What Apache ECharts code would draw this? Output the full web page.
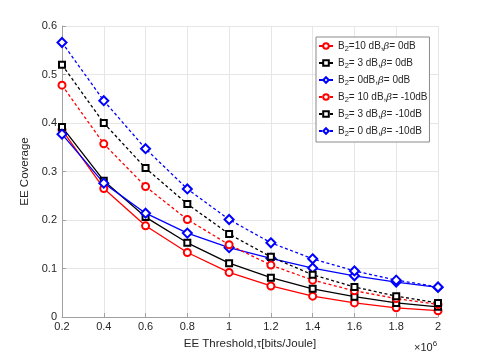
<!DOCTYPE html>
<html>
<head>
<meta charset="utf-8">
<script src="https://cdn.jsdelivr.net/npm/echarts@6/dist/echarts.min.js"></script>
<style>
  html, body { margin: 0; padding: 0; background: #fff; }
  #eeCoverage { width: 485px; height: 357px; }
</style>
</head>
<body>
<div id="eeCoverage"></div>
<script>
// x 轴: EE 门限 (单位 1e6 bits/Joule)
var thresholds = [0.2, 0.4, 0.6, 0.8, 1.0, 1.2, 1.4, 1.6, 1.8, 2.0];

// beta = 0dB
var b10_beta0 = [0.386, 0.265, 0.188, 0.133, 0.092, 0.064, 0.043, 0.029, 0.019, 0.013];
var b3_beta0 = [0.392, 0.281, 0.206, 0.153, 0.111, 0.081, 0.058, 0.042, 0.029, 0.021];
var b0_beta0 = [0.377, 0.276, 0.214, 0.173, 0.143, 0.121, 0.101, 0.085, 0.072, 0.061];
// beta = -10dB
var b10_betaM10 = [0.478, 0.357, 0.269, 0.201, 0.149, 0.107, 0.076, 0.054, 0.038, 0.026];
var b3_betaM10 = [0.520, 0.400, 0.307, 0.233, 0.171, 0.124, 0.087, 0.062, 0.043, 0.029];
var b0_betaM10 = [0.566, 0.446, 0.347, 0.264, 0.201, 0.153, 0.120, 0.095, 0.076, 0.062];

var seriesNames = [
  'B2=10 dB,β= 0dB',
  'B2= 3 dB,β= 0dB',
  'B2= 0dB,β= 0dB',
  'B2= 10 dB,β= -10dB',
  'B2= 3 dB,β= -10dB',
  'B2= 0 dB,β= -10dB'
];

function pairs (ys) {
  return thresholds.map(function (x, i) { return [x, ys[i]]; });
}

// 图例文字: B 下标 2, β 斜体
function legendLabel (name) {
  var m = name.match(/^B2(.*?),β(.*)$/);
  return '{t|B}{s|2}{t|' + m[1] + ',}{g|β}{t|' + m[2] + '}';
}

function makeSeries (name, data, color, symbol, size, dashed) {
  return {
    name: name,
    type: 'line',
    data: pairs(data),
    symbol: symbol,
    symbolSize: size,
    showSymbol: true,
    lineStyle: { color: color, width: 1.3, type: dashed ? [3, 2.5] : 'solid' },
    itemStyle: { color: color, borderColor: color, borderWidth: 1.3 },
    emphasis: { disabled: true },
    animation: false
  };
}

var myChart = echarts.init(document.getElementById('eeCoverage'));
var textColor = '#262626';
var option = {
  backgroundColor: '#fff',
  grid: {
    left: 62,
    top: 26,
    right: 47,
    bottom: 40
  },
  legend: {
    orient: 'vertical',
    left: 316,
    top: 37,
    padding: [4, 2, 4, 2],
    itemGap: 5,
    itemWidth: 14,
    itemHeight: 7,
    backgroundColor: '#fff',
    borderColor: '#8a8a8a',
    borderWidth: 1,
    data: seriesNames,
    formatter: legendLabel,
    textStyle: {
      color: textColor,
      fontFamily: 'Liberation Sans',
      fontSize: 10,
      rich: {
        t: { fontSize: 10, fontFamily: 'Liberation Sans', color: textColor, height: 13 },
        s: { fontSize: 7.5, fontFamily: 'Liberation Sans', color: textColor, padding: [6, 0, 0, 0], height: 13 },
        g: { fontSize: 10, fontFamily: 'DejaVu Serif', fontStyle: 'italic', color: textColor, height: 13 }
      }
    }
  },
  xAxis: {
    type: 'value',
    min: 0.2,
    max: 2,
    interval: 0.2,
    name: 'EE Threshold,τ[bits/Joule]',
    nameLocation: 'middle',
    nameGap: 21,
    nameTextStyle: { color: textColor, fontFamily: 'Liberation Sans', fontSize: 11.5 },
    axisLine: { show: true, lineStyle: { color: '#a0a0a0', width: 1 } },
    axisTick: { show: true, inside: true, length: 4, lineStyle: { color: '#a0a0a0' } },
    axisLabel: {
      color: textColor,
      fontFamily: 'Liberation Sans',
      fontSize: 11,
      margin: 4,
      formatter: function (v) { return String(Math.round(v * 10) / 10); }
    },
    splitLine: { show: true, lineStyle: { color: '#e6e6e6', width: 1 } }
  },
  yAxis: {
    type: 'value',
    min: 0,
    max: 0.6,
    interval: 0.1,
    name: 'EE Coverage',
    nameLocation: 'middle',
    nameGap: 19,
    nameTextStyle: { color: textColor, fontFamily: 'Liberation Sans', fontSize: 11.5 },
    axisLine: { show: true, lineStyle: { color: '#a0a0a0', width: 1 } },
    axisTick: { show: true, inside: true, length: 4, lineStyle: { color: '#a0a0a0' } },
    axisLabel: {
      color: textColor,
      fontFamily: 'Liberation Sans',
      fontSize: 11,
      margin: 5,
      formatter: function (v) { return String(Math.round(v * 10) / 10); }
    },
    splitLine: { show: true, lineStyle: { color: '#e6e6e6', width: 1 } }
  },
  graphic: [{
    type: 'text',
    left: 414,
    top: 340,
    style: {
      text: '{a|×10}{b|6}',
      rich: {
        a: { fontSize: 11, fontFamily: 'Liberation Sans', fill: textColor, height: 14 },
        b: { fontSize: 8, fontFamily: 'Liberation Sans', fill: textColor, padding: [0, 0, 7, 0], height: 14 }
      }
    }
  }],
  series: [
    makeSeries(seriesNames[0], b10_beta0, '#ff0000', 'emptyCircle', 7, false),
    makeSeries(seriesNames[1], b3_beta0, '#000000', 'emptyRect', 6, false),
    makeSeries(seriesNames[2], b0_beta0, '#0000ff', 'emptyDiamond', 9, false),
    makeSeries(seriesNames[3], b10_betaM10, '#ff0000', 'emptyCircle', 7, true),
    makeSeries(seriesNames[4], b3_betaM10, '#000000', 'emptyRect', 6, true),
    makeSeries(seriesNames[5], b0_betaM10, '#0000ff', 'emptyDiamond', 9, true)
  ]
};
myChart.setOption(option);
</script>
</body>
</html>
